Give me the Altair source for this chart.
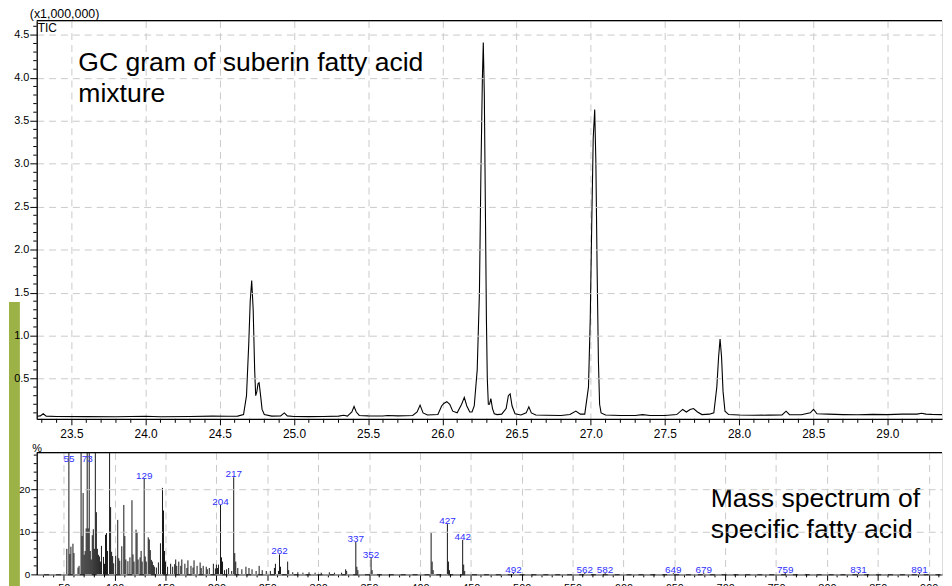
import altair as alt
import pandas as pd

FONT = "Liberation Sans"

# ---------------- GC chromatogram (TIC, x1,000,000) ----------------
gc_time = [23.27, 23.29, 23.31, 23.33, 23.40, 23.60, 23.80, 24.00, 24.10, 24.30, 24.45, 24.55,
           24.62, 24.66, 24.68, 24.695, 24.705, 24.715, 24.725, 24.735, 24.742, 24.75, 24.758,
           24.765, 24.775, 24.785, 24.80, 24.85, 24.91, 24.935, 24.955, 25.00, 25.10, 25.20,
           25.30, 25.335, 25.36, 25.39, 25.405, 25.42, 25.44, 25.50, 25.60, 25.63, 25.70, 25.80,
           25.83, 25.85, 25.87, 25.90, 25.97, 25.995, 26.01, 26.03, 26.05, 26.07, 26.10, 26.13,
           26.148, 26.165, 26.185, 26.20, 26.215, 26.235, 26.25, 26.26, 26.27, 26.276, 26.283,
           26.29, 26.297, 26.303, 26.31, 26.318, 26.327, 26.338, 26.35, 26.37, 26.40, 26.43,
           26.445, 26.457, 26.47, 26.49, 26.53, 26.565, 26.583, 26.60, 26.63, 26.70, 26.80,
           26.86, 26.90, 26.93, 26.96, 26.985, 26.997, 27.007, 27.017, 27.027, 27.035, 27.043,
           27.052, 27.06, 27.07, 27.10, 27.20, 27.30, 27.35, 27.40, 27.50, 27.58, 27.62, 27.645,
           27.67, 27.693, 27.72, 27.75, 27.80, 27.83, 27.85, 27.862, 27.872, 27.882, 27.892,
           27.905, 27.93, 28.00, 28.10, 28.20, 28.29, 28.317, 28.34, 28.42, 28.48, 28.502,
           28.525, 28.60, 28.70, 28.80, 28.90, 29.00, 29.10, 29.20, 29.23, 29.26, 29.30, 29.37]
gc_tic = [0.060, 0.065, 0.090, 0.062, 0.058, 0.056, 0.055, 0.060, 0.055, 0.057, 0.062, 0.060,
          0.062, 0.080, 0.300, 0.900, 1.400, 1.640, 1.300, 0.600, 0.300, 0.350, 0.440,
          0.450, 0.300, 0.140, 0.080, 0.062, 0.065, 0.100, 0.065, 0.058, 0.056, 0.058,
          0.062, 0.072, 0.062, 0.110, 0.174, 0.110, 0.070, 0.065, 0.063, 0.070, 0.065, 0.070,
          0.110, 0.190, 0.100, 0.075, 0.080, 0.180, 0.210, 0.230, 0.200, 0.120, 0.100, 0.200,
          0.280, 0.180, 0.110, 0.110, 0.180, 0.600, 1.500, 2.900, 4.000, 4.410, 3.800,
          2.500, 1.200, 0.500, 0.200, 0.200, 0.265, 0.150, 0.090, 0.080, 0.085, 0.150,
          0.300, 0.320, 0.180, 0.090, 0.075, 0.100, 0.170, 0.100, 0.075, 0.072, 0.070,
          0.080, 0.120, 0.085, 0.085, 0.400, 1.200, 2.300, 3.300, 3.630, 3.000, 1.800,
          0.700, 0.200, 0.100, 0.075, 0.070, 0.070, 0.080, 0.070, 0.070, 0.080, 0.140, 0.110,
          0.140, 0.150, 0.110, 0.080, 0.085, 0.100, 0.400, 0.750, 0.960, 0.750, 0.350,
          0.120, 0.080, 0.075, 0.072, 0.074, 0.075, 0.120, 0.080, 0.078, 0.100, 0.140,
          0.090, 0.085, 0.080, 0.078, 0.082, 0.080, 0.085, 0.085, 0.095, 0.085, 0.082, 0.080]

# ---------------- Mass spectrum (% relative intensity) ----------------
ms_mz = [53, 55, 56, 57, 59, 60, 64, 65, 67, 68, 69, 70, 71, 72, 73, 74, 75, 76, 77, 78, 79, 80,
         81, 82, 83, 84, 85, 86, 87, 89, 90, 91, 92, 93, 95, 96, 97, 98, 99, 101, 103, 104, 105,
         107, 109, 110, 111, 113, 115, 117, 118, 119, 121, 122, 123, 125, 126, 127, 129, 130, 131,
         133, 134, 135, 136, 137, 138, 139, 141, 143, 145, 147, 148, 149, 150, 152, 155, 157, 159,
         160, 161, 163, 165, 166, 169, 171, 172, 175, 177, 178, 181, 184, 185, 187, 190, 191, 193,
         197, 199, 200, 201, 202, 204, 205, 206, 208, 210, 212, 215, 217, 218, 219, 221, 225, 229,
         232, 235, 239, 242, 245, 249, 253, 257, 258, 261, 262, 263, 270, 271, 275, 280, 285, 291,
         297, 303, 311, 316, 323, 327, 328, 337, 338, 339, 352, 353, 411, 412, 413, 427, 428, 429,
         442, 443, 444, 492, 562, 582, 649, 679, 759, 831, 891]
ms_int = [6.0, 45.0, 4.8, 6.5, 7.2, 5.0, 1.6, 2.0, 38.0, 9.0, 19.1, 4.6, 5.5, 10.8, 100.0, 10.8,
          60.0, 5.5, 3.5, 9.2, 10.6, 6.0, 35.0, 14.6, 6.0, 4.6, 4.2, 3.0, 6.7, 4.1, 2.5, 9.3, 9.7,
          5.5, 32.0, 15.8, 5.3, 4.3, 2.6, 4.4, 12.8, 3.8, 3.2, 6.6, 16.3, 9.0, 3.5, 3.1, 4.0, 17.4,
          4.7, 3.0, 10.5, 9.8, 3.5, 4.0, 5.5, 3.0, 22.5, 4.2, 3.0, 8.7, 8.2, 5.7, 3.4, 3.0, 2.2,
          1.8, 1.6, 2.8, 7.3, 20.3, 15.0, 5.5, 3.0, 1.8, 2.5, 1.8, 2.4, 3.5, 2.0, 3.0, 2.0, 3.5,
          2.5, 1.5, 3.3, 2.0, 1.6, 3.3, 2.0, 2.8, 1.5, 2.0, 1.8, 1.2, 1.5, 2.5, 1.4, 2.3, 1.5,
          2.3, 16.3, 4.0, 3.0, 1.0, 1.2, 1.5, 0.8, 22.8, 5.0, 3.0, 1.5, 1.2, 1.8, 1.5, 1.2, 0.8,
          2.0, 1.0, 0.8, 0.8, 1.5, 2.5, 0.8, 4.7, 1.8, 3.0, 1.0, 0.5, 0.5, 0.4, 0.5, 0.4, 0.4,
          0.5, 0.4, 0.4, 1.2, 0.8, 7.6, 1.8, 1.0, 3.9, 1.0, 9.7, 3.0, 1.0, 11.8, 3.0, 1.0, 8.1,
          2.3, 0.8, 0.3, 0.3, 0.3, 0.3, 0.3, 0.3, 0.3, 0.3]
label_mz = [55, 73, 129, 204, 217, 262, 337, 352, 427, 442, 492, 562, 582, 649, 679, 759, 831, 891]

# ---------------- axis ticks ----------------
x1_major = [23.5, 24.0, 24.5, 25.0, 25.5, 26.0, 26.5, 27.0, 27.5, 28.0, 28.5, 29.0]
y1_major = [0.5, 1.0, 1.5, 2.0, 2.5, 3.0, 3.5, 4.0, 4.5]
x2_major = [50, 100, 150, 200, 250, 300, 350, 400, 450, 500, 550, 600, 650, 700, 750, 800, 850, 900]
y2_major = [0, 10, 20]
x1_minor = [round(23.3 + 0.1 * i, 1) for i in range(61)]
x1_minor = [v for v in x1_minor if v not in x1_major]
y1_minor = [round(0.1 * i, 1) for i in range(1, 47)]
y1_minor = [v for v in y1_minor if v not in y1_major]
x2_minor = [v for v in range(30, 911, 10) if v % 50 != 0]
y2_minor = [v for v in range(2, 29, 2) if v % 10 != 0]

W = 914
H1 = 402
H2 = 123
LABEL_CAP = 26.3

gc = pd.DataFrame({"t": gc_time, "v": gc_tic})
ms = pd.DataFrame({"mz": ms_mz, "inten": ms_int})
lookup = dict(zip(ms_mz, ms_int))
lab = pd.DataFrame({
    "mz": label_mz,
    "inten": [min(lookup[m], LABEL_CAP) for m in label_mz],
    "txt": [str(m) for m in label_mz],
})
one = pd.DataFrame({"k": [0]})

grid_dash = [7, 5]
grid_color = "#c9c9c9"

common = dict(title=None, labelFlush=False, labelOverlap=False, gridDash=grid_dash,
              gridColor=grid_color, gridWidth=1, labelFont=FONT, labelColor="black",
              domainColor="black", domainWidth=1.3, tickColor="black", tickWidth=1)

xs1 = alt.Scale(domain=[23.266, 29.368], nice=False, zero=False)
ys1 = alt.Scale(domain=[0.03, 4.665], nice=False, zero=False)
xs2 = alt.Scale(domain=[23.4, 913.1], nice=False, zero=False)
ys2 = alt.Scale(domain=[0, 28.6], nice=False, zero=False)

x1 = alt.X("t:Q", scale=xs1, axis=alt.Axis(values=x1_major, format=".1f", tickSize=6,
                                           labelFontSize=12, labelPadding=4, **common))
y1 = alt.Y("v:Q", scale=ys1, axis=alt.Axis(values=y1_major, format=".1f", tickSize=7,
                                           labelFontSize=11, labelPadding=1, zindex=1, **common))

green = alt.Chart(one).mark_rect(color="#9db246").encode(
    x=alt.value(-28), x2=alt.value(-17), y=alt.value(284), y2=alt.value(575))
line = alt.Chart(gc).mark_line(color="black", strokeWidth=1.1, clip=True).encode(x=x1, y=y1)
x1_ticks = alt.Chart(pd.DataFrame({"t": x1_minor})).mark_rule(color="black").encode(
    x=x1, y=alt.value(H1), y2=alt.value(H1 + 4))
y1_ticks = alt.Chart(pd.DataFrame({"v": y1_minor})).mark_rule(color="black").encode(
    y=y1, x=alt.value(-3.5), x2=alt.value(0))
border1 = alt.Chart(one).mark_rule(color="black", strokeWidth=1.3).encode(
    x=alt.value(0), x2=alt.value(W), y=alt.value(0))
unit_txt = alt.Chart(one).mark_text(align="left", baseline="alphabetic", fontSize=12.5, font=FONT,
                                    color="black").encode(
    x=alt.value(-7), y=alt.value(-3), text=alt.value("(x1,000,000)"))
tic_txt = alt.Chart(one).mark_text(align="left", baseline="alphabetic", fontSize=12, font=FONT,
                                   color="black").encode(
    x=alt.value(1), y=alt.value(11), text=alt.value("TIC"))
gc_title = alt.Chart(one).mark_text(align="left", baseline="alphabetic", fontSize=26.8, font=FONT,
                                    color="black", lineBreak="\n", lineHeight=31.5).encode(
    x=alt.value(42), y=alt.value(51), text=alt.value("GC gram of suberin fatty acid\nmixture"))

top = alt.layer(green, line, x1_ticks, y1_ticks, border1, unit_txt, tic_txt, gc_title).properties(
    width=W, height=H1)

x2 = alt.X("mz:Q", scale=xs2, axis=alt.Axis(values=x2_major, format="d", tickSize=6,
                                            labelFontSize=11, labelPadding=2, **common))
y2 = alt.Y("inten:Q", scale=ys2, axis=alt.Axis(values=y2_major, format="d", tickSize=6,
                                               labelFontSize=10, labelPadding=1, zindex=1, **common))

bars = alt.Chart(ms).mark_rule(color="#151515", strokeWidth=1, clip=True).encode(
    x=x2, y=y2, y2=alt.datum(0))
x2_ticks = alt.Chart(pd.DataFrame({"mz": x2_minor})).mark_rule(color="black").encode(
    x=x2, y=alt.value(H2), y2=alt.value(H2 + 3))
y2_ticks = alt.Chart(pd.DataFrame({"inten": y2_minor})).mark_rule(color="black").encode(
    y=y2, x=alt.value(-3), x2=alt.value(0))
labels = alt.Chart(lab).mark_text(color="#2f2fff", fontSize=10, font=FONT, baseline="alphabetic",
                                  align="center").encode(
    x=x2, y=y2, text="txt:N")
border2 = alt.Chart(one).mark_rule(color="black", strokeWidth=1.3).encode(
    x=alt.value(0), x2=alt.value(W), y=alt.value(0))
pct = alt.Chart(one).mark_text(align="left", baseline="alphabetic", fontSize=11, font=FONT,
                               color="black").encode(
    x=alt.value(-4.5), y=alt.value(-1), text=alt.value("%"))
ms_title = alt.Chart(one).mark_text(align="left", baseline="alphabetic", fontSize=26.8, font=FONT,
                                    color="black", lineBreak="\n", lineHeight=31).encode(
    x=alt.value(680.5), y=alt.value(55), text=alt.value("Mass spectrum of\nspecific fatty acid"))

bottom = alt.layer(bars, x2_ticks, y2_ticks, labels, border2, pct, ms_title).properties(
    width=W, height=H2)

chart = alt.vconcat(top, bottom, spacing=34, bounds="flush").properties(
    padding={"left": 0, "top": -4, "right": 0, "bottom": 0}
).configure_view(stroke=None).configure_axis(
    domainColor="black", domainWidth=1.3, tickColor="black", tickWidth=1,
    labelColor="black", labelFont=FONT, gridColor=grid_color, gridDash=grid_dash, gridWidth=1,
    labelOverlap=False,
).configure(background="white")

chart.save("out.html", embed_options={"renderer": "svg", "actions": False})
